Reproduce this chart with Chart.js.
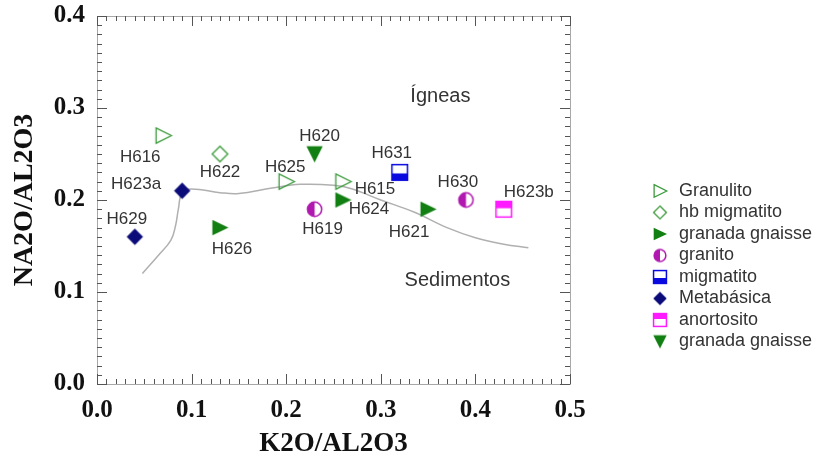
<!DOCTYPE html>
<html>
<head>
<meta charset="utf-8">
<script src="https://cdn.jsdelivr.net/npm/chart.js@4.4.0/dist/chart.umd.min.js"></script>
<style>
  html, body { margin: 0; padding: 0; background: #fff; }
  #chart { display: block; }
</style>
</head>
<body>
<canvas id="chart" width="818" height="463"></canvas>
<script>
// sample data
const granulitoX = [0.07, 0.20, 0.26];
const granulitoY = [0.27, 0.22, 0.22];
const granulitoNames = ['H616', 'H625', 'H615'];

const hbMigmatitoX = [0.13];
const hbMigmatitoY = [0.25];
const hbMigmatitoNames = ['H622'];

const granadaX = [0.13, 0.26, 0.35];
const granadaY = [0.17, 0.20, 0.19];
const granadaNames = ['H626', 'H624', 'H621'];

const granitoX = [0.23, 0.39];
const granitoY = [0.19, 0.20];
const granitoNames = ['H619', 'H630'];

const migmatitoX = [0.32];
const migmatitoY = [0.23];
const migmatitoNames = ['H631'];

const metabasicaX = [0.09, 0.04];
const metabasicaY = [0.21, 0.16];
const metabasicaNames = ['H623a', 'H629'];

const anortositoX = [0.43];
const anortositoY = [0.19];
const anortositoNames = ['H623b'];

const granada2X = [0.23];
const granada2Y = [0.25];
const granada2Names = ['H620'];

// igneous / sedimentary boundary
const curveX = [0.048, 0.065, 0.078, 0.083, 0.086, 0.09, 0.10, 0.13, 0.15, 0.185, 0.215, 0.25, 0.27, 0.30, 0.335, 0.37, 0.40, 0.43, 0.456];
const curveY = [0.120, 0.140, 0.156, 0.172, 0.190, 0.208, 0.212, 0.208, 0.207, 0.213, 0.217, 0.216, 0.212, 0.200, 0.187, 0.170, 0.159, 0.152, 0.148];

const xTicks = [0.0, 0.1, 0.2, 0.3, 0.4, 0.5];
const yTicks = [0.0, 0.1, 0.2, 0.3, 0.4];

// where each sample name sits relative to its marker (px)
const labelOffsets = {
    H616: [-23, 22], H623a: [-46, -6], H629: [-8, -17], H622: [0, 18],
    H625: [-1, -14], H626: [12, 22], H620: [5, -18], H619: [8, 20],
    H615: [32, 8], H624: [26, 9], H631: [-8, -19], H621: [-19, 23],
    H630: [-8, -18], H623b: [25, -17]
};

const GREEN_OPEN = '#3d9b3d';
const GREEN = '#127f12';
const MAGENTA = '#b018b0';
const PINK = '#ff1aff';
const BLUE = '#0a0ae0';
const NAVY = '#0b0b7a';

function zip(xs, ys) {
    return xs.map((x, i) => ({ x: x, y: ys[i] }));
}

// marker painters, drawn into small canvases used as pointStyle
const painters = {
    triRightOpen(ctx, c, s) {
        ctx.beginPath();
        ctx.moveTo(c - s * 0.42, c - s * 0.45);
        ctx.lineTo(c + s * 0.48, c);
        ctx.lineTo(c - s * 0.42, c + s * 0.45);
        ctx.closePath();
        ctx.strokeStyle = GREEN_OPEN; ctx.lineWidth = 1.3; ctx.stroke();
    },
    diamondOpen(ctx, c, s) {
        ctx.beginPath();
        ctx.moveTo(c, c - s * 0.46); ctx.lineTo(c + s * 0.46, c);
        ctx.lineTo(c, c + s * 0.46); ctx.lineTo(c - s * 0.46, c);
        ctx.closePath();
        ctx.strokeStyle = GREEN_OPEN; ctx.lineWidth = 1.3; ctx.stroke();
    },
    triRightFilled(ctx, c, s) {
        ctx.beginPath();
        ctx.moveTo(c - s * 0.45, c - s * 0.45);
        ctx.lineTo(c + s * 0.5, c);
        ctx.lineTo(c - s * 0.45, c + s * 0.45);
        ctx.closePath();
        ctx.fillStyle = GREEN; ctx.fill();
    },
    halfCircle(ctx, c, s) {
        const r = s * 0.42;
        ctx.beginPath(); ctx.arc(c, c, r, 0, Math.PI * 2);
        ctx.fillStyle = '#fff'; ctx.fill();
        ctx.beginPath(); ctx.arc(c, c, r, Math.PI / 2, Math.PI * 1.5);
        ctx.closePath(); ctx.fillStyle = MAGENTA; ctx.fill();
        ctx.beginPath(); ctx.arc(c, c, r, 0, Math.PI * 2);
        ctx.strokeStyle = MAGENTA; ctx.lineWidth = 1.5; ctx.stroke();
    },
    squareBottom(ctx, c, s) {
        const h = s * 0.46;
        ctx.fillStyle = '#fff'; ctx.fillRect(c - h, c - h, 2 * h, 2 * h);
        ctx.fillStyle = BLUE; ctx.fillRect(c - h, c + 1, 2 * h, h - 1);
        ctx.strokeStyle = BLUE; ctx.lineWidth = 1.5; ctx.strokeRect(c - h, c - h, 2 * h, 2 * h);
    },
    diamondFilled(ctx, c, s) {
        ctx.beginPath();
        ctx.moveTo(c, c - s * 0.48); ctx.lineTo(c + s * 0.48, c);
        ctx.lineTo(c, c + s * 0.48); ctx.lineTo(c - s * 0.48, c);
        ctx.closePath();
        ctx.fillStyle = NAVY; ctx.fill();
    },
    squareTop(ctx, c, s) {
        const h = s * 0.46;
        ctx.fillStyle = '#fff'; ctx.fillRect(c - h, c - h, 2 * h, 2 * h);
        ctx.fillStyle = PINK; ctx.fillRect(c - h, c - h, 2 * h, h - 1);
        ctx.strokeStyle = PINK; ctx.lineWidth = 1.5; ctx.strokeRect(c - h, c - h, 2 * h, 2 * h);
    },
    triDownFilled(ctx, c, s) {
        ctx.beginPath();
        ctx.moveTo(c - s * 0.48, c - s * 0.45);
        ctx.lineTo(c + s * 0.48, c - s * 0.45);
        ctx.lineTo(c, c + s * 0.5);
        ctx.closePath();
        ctx.fillStyle = GREEN; ctx.fill();
    }
};

function makeMarker(kind, size) {
    const cv = document.createElement('canvas');
    cv.width = size + 4;
    cv.height = size + 4;
    painters[kind](cv.getContext('2d'), (size + 4) / 2, size);
    return cv;
}

function series(label, kind, xs, ys, names) {
    return {
        label: label,
        kind: kind,
        names: names,
        data: zip(xs, ys),
        pointStyle: makeMarker(kind, 17),
        legendMarker: makeMarker(kind, 14)
    };
}

const datasets = [
    series('Granulito', 'triRightOpen', granulitoX, granulitoY, granulitoNames),
    series('hb migmatito', 'diamondOpen', hbMigmatitoX, hbMigmatitoY, hbMigmatitoNames),
    series('granada gnaisse', 'triRightFilled', granadaX, granadaY, granadaNames),
    series('granito', 'halfCircle', granitoX, granitoY, granitoNames),
    series('migmatito', 'squareBottom', migmatitoX, migmatitoY, migmatitoNames),
    series('Metabásica', 'diamondFilled', metabasicaX, metabasicaY, metabasicaNames),
    series('anortosito', 'squareTop', anortositoX, anortositoY, anortositoNames),
    series('granada gnaisse', 'triDownFilled', granada2X, granada2Y, granada2Names),
    {
        label: 'boundary',
        data: zip(curveX, curveY),
        showLine: true,
        borderColor: '#b0b0b0',
        borderWidth: 1.5,
        tension: 0.4,
        pointRadius: 0,
        order: 10
    }
];

// inward ticks on all four sides plus the frame
const frameTicks = {
    id: 'frameTicks',
    afterDatasetsDraw(chart) {
        const { ctx, chartArea: a, scales: { x, y } } = chart;
        ctx.save();
        ctx.strokeStyle = '#a8a8a8';
        ctx.lineWidth = 1;
        ctx.strokeRect(a.left + 0.5, a.top + 0.5, a.right - a.left, a.bottom - a.top);
        ctx.strokeStyle = '#555';
        ctx.beginPath();
        for (let i = 0; i <= 50; i++) {
            const px = Math.round(x.getPixelForValue(i / 100)) + 0.5;
            const len = i % 10 === 0 ? 10 : 5;
            ctx.moveTo(px, a.bottom); ctx.lineTo(px, a.bottom - len);
            ctx.moveTo(px, a.top); ctx.lineTo(px, a.top + len);
        }
        for (let i = 0; i <= 40; i++) {
            const py = Math.round(y.getPixelForValue(i / 100)) + 0.5;
            const len = i % 10 === 0 ? 10 : 5;
            ctx.moveTo(a.left, py); ctx.lineTo(a.left + len, py);
            ctx.moveTo(a.right, py); ctx.lineTo(a.right - len, py);
        }
        ctx.stroke();
        ctx.restore();
    }
};

// sample names, region names and the legend
const annotations = {
    id: 'annotations',
    afterDraw(chart) {
        const { ctx, scales: { x, y } } = chart;
        ctx.save();
        ctx.fillStyle = '#333';
        ctx.textAlign = 'center';
        ctx.textBaseline = 'middle';
        ctx.font = '17px "Liberation Sans", Arial, sans-serif';
        chart.data.datasets.forEach((ds, di) => {
            if (!ds.names) return;
            const meta = chart.getDatasetMeta(di);
            meta.data.forEach((pt, i) => {
                const name = ds.names[i];
                const off = labelOffsets[name] || [0, -16];
                ctx.fillText(name, pt.x + off[0], pt.y + off[1]);
            });
        });

        ctx.font = '20px "Liberation Sans", Arial, sans-serif';
        ctx.fillText('Ígneas', x.getPixelForValue(0.363), y.getPixelForValue(0.312));
        ctx.fillText('Sedimentos', x.getPixelForValue(0.381), y.getPixelForValue(0.113));

        // legend
        ctx.textAlign = 'left';
        ctx.font = '18px "Liberation Sans", Arial, sans-serif';
        const items = chart.data.datasets.filter(ds => ds.legendMarker);
        items.forEach((ds, i) => {
            const cy = 191 + i * 21.5;
            const m = ds.legendMarker;
            ctx.drawImage(m, 660 - m.width / 2, cy - m.height / 2);
            ctx.fillText(ds.label, 679, cy);
        });
        ctx.restore();
    }
};

const serifBold = { family: '"Liberation Serif", "Times New Roman", serif', weight: 'bold' };

new Chart(document.getElementById('chart'), {
    type: 'scatter',
    data: { datasets: datasets },
    options: {
        responsive: false,
        animation: false,
        layout: { padding: { top: 16, right: 248, bottom: 0, left: 0 } },
        plugins: {
            legend: { display: false },
            tooltip: { enabled: false }
        },
        scales: {
            x: {
                type: 'linear',
                min: 0, max: 0.5,
                afterFit: s => { s.height = 79; s.paddingLeft = 0; s.paddingRight = 0; },
                afterBuildTicks: s => { s.ticks = xTicks.map(v => ({ value: v })); },
                grid: { display: false },
                border: { display: false },
                ticks: {
                    padding: 4,
                    color: '#111',
                    font: Object.assign({ size: 25 }, serifBold),
                    callback: v => v.toFixed(1)
                },
                title: {
                    display: true,
                    text: 'K2O/AL2O3',
                    color: '#111',
                    padding: { top: 0, bottom: 3 },
                    font: Object.assign({ size: 27 }, serifBold)
                }
            },
            y: {
                type: 'linear',
                min: 0, max: 0.4,
                afterFit: s => { s.width = 97; s.paddingTop = 0; s.paddingBottom = 0; },
                afterBuildTicks: s => { s.ticks = yTicks.map(v => ({ value: v })); },
                grid: { display: false },
                border: { display: false },
                ticks: {
                    padding: 4,
                    color: '#111',
                    font: Object.assign({ size: 25 }, serifBold),
                    callback: v => v.toFixed(1)
                },
                title: {
                    display: true,
                    text: 'NA2O/AL2O3',
                    color: '#111',
                    padding: { top: 8, bottom: 0 },
                    font: Object.assign({ size: 28 }, serifBold)
                }
            }
        }
    },
    plugins: [frameTicks, annotations]
});
</script>
</body>
</html>
